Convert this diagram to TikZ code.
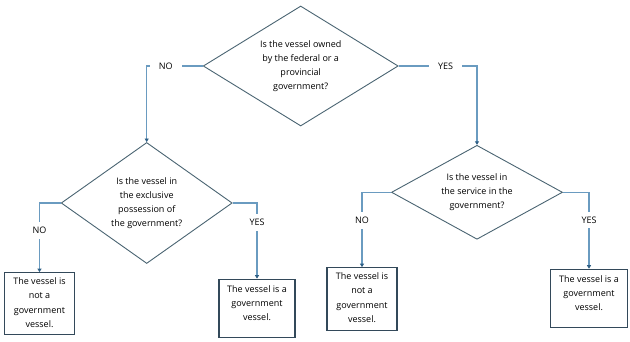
\documentclass[tikz,border=0pt]{standalone}
\usepackage{fontspec}
\setmainfont{Open Sans}
\usetikzlibrary{shapes.geometric,arrows.meta}
\definecolor{connc}{HTML}{6A9BC0}
\definecolor{tipc}{HTML}{2E5F85}
\definecolor{diac}{HTML}{4A6472}
\definecolor{boxc}{HTML}{33495A}
\begin{document}
\begin{tikzpicture}[x=1pt,y=-1pt,
  every node/.style={font=\fontsize{9}{14.2}\selectfont, text=black},
  decision/.style={draw=diac, line width=0.9pt, diamond, inner sep=0pt, align=center},
  resbox/.style={draw=boxc, line width=1.1pt, rectangle, inner sep=0pt},
  restext/.style={align=center, anchor=north, inner sep=0pt},
  conn/.style={draw=connc, line width=1.2pt, -{Triangle[length=3.5pt,width=4pt,color=tipc]}},
  lbl/.style={fill=white, inner xsep=9pt, inner ysep=3pt}]
\useasboundingbox (0,0) rectangle (630,342);

\node[decision, minimum width=195pt, minimum height=120pt, aspect=1.625] (d1) at (300.7,66)
  {Is the vessel owned\\by the federal or a\\provincial\\government?};
\node[decision, minimum width=171pt, minimum height=121pt, aspect=1.41] (d2) at (146.7,203)
  {Is the vessel in\\the exclusive\\possession of\\the government?};
\node[decision, minimum width=171pt, minimum height=94pt, aspect=1.82] (d3) at (477,192.3)
  {Is the vessel in\\the service in the\\government?};

\node[resbox, minimum width=69.6pt, minimum height=62pt] (b1) at (39.5,303.7) {};
\node[restext] (t1) at ([yshift=-5.5pt]b1.north) {The vessel is\\not a\\government\\vessel.};
\node[resbox, minimum width=76pt, minimum height=58pt] (b2) at (257,308.2) {};
\node[restext] (t2) at ([yshift=-6.5pt]b2.north) {The vessel is a\\government\\vessel.};
\node[resbox, minimum width=70pt, minimum height=63pt] (b3) at (362,299.2) {};
\node[restext] (t3) at ([yshift=-5.5pt]b3.north) {The vessel is\\not a\\government\\vessel.};
\node[resbox, minimum width=77.6pt, minimum height=58pt] (b4) at (589,298.3) {};
\node[restext] (t4) at ([yshift=-6.5pt]b4.north) {The vessel is a\\government\\vessel.};

\draw[conn] (d1.west) -| node[lbl, pos=0.33] (l1) {NO} (d2.north);
\draw[conn] (d1.east) -| node[lbl, pos=0.30] (l2) {YES} (d3.north);
\draw[conn] (d2.west) -| node[lbl, pos=0.70, inner xsep=2pt, inner ysep=5pt] (l3) {NO} (b1.north);
\draw[conn] (d2.east) -| node[lbl, pos=0.63, inner xsep=2pt, inner ysep=5pt] (l4) {YES} (b2.north);
\draw[conn] (d3.west) -| node[lbl, pos=0.69, inner xsep=2pt, inner ysep=5pt] (l5) {NO} (b3.north);
\draw[conn] (d3.east) -| node[lbl, pos=0.68, inner xsep=2pt, inner ysep=5pt] (l6) {YES} (b4.north);
\end{tikzpicture}
\end{document}
